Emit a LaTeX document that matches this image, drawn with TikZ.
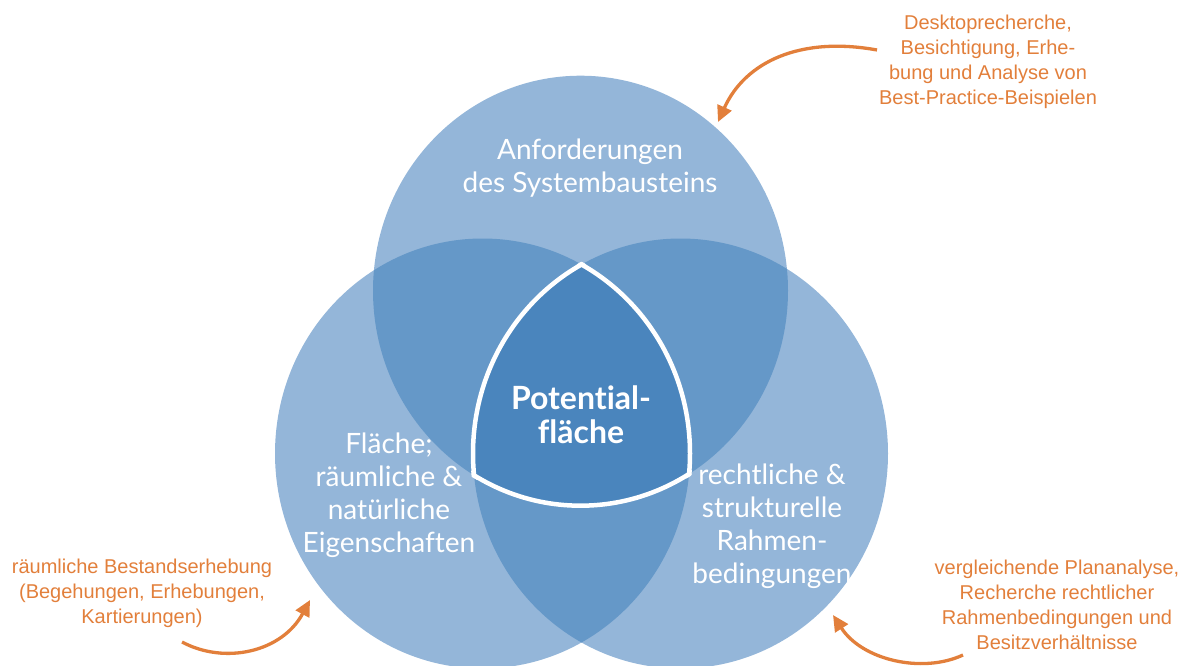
\documentclass[tikz,border=0pt]{standalone}
\usepackage{fontspec}
\setmainfont{Lato}[Ligatures={NoCommon,NoRare}]
\newfontfamily\arialfont{Liberation Sans}
\usetikzlibrary{arrows.meta}
\definecolor{cOne}{HTML}{94B6D9}
\definecolor{cTwo}{HTML}{6598C8}
\definecolor{cThree}{HTML}{4A85BD}
\definecolor{orng}{HTML}{E27F3B}
\begin{document}
\begin{tikzpicture}[x=1pt,y=-1pt,
  circlabel/.style={text=white, font=\fontsize{28}{33}\selectfont, align=center, inner sep=0pt},
  centrelabel/.style={text=white, font=\bfseries\fontsize{32}{34}\selectfont, align=center, inner sep=0pt},
  notelabel/.style={text=orng, font=\arialfont\fontsize{20}{25}\selectfont, align=center, inner sep=0pt},
  orarrow/.style={draw=orng, line width=3.3pt, -{Triangle[length=16pt,width=15pt]}},
  outline/.style={draw=white, line width=4.5pt}]
\useasboundingbox (0,0) rectangle (1189,666);
\def\rx{207.5pt}\def\ry{215pt}
\def\rxb{210pt}\def\ryb{217.5pt}
\coordinate (T) at (580.5,290.7);
\coordinate (L) at (482.5,453.5);
\coordinate (R) at (680.5,453.5);
% single circles
\fill[cOne] (T) ellipse ({\rx} and {\ry}) (L) ellipse ({\rx} and {\ry}) (R) ellipse ({\rx} and {\ry});
% pairwise overlaps
\begin{scope}
  \clip (T) ellipse ({\rx} and {\ry});
  \fill[cTwo] (L) ellipse ({\rx} and {\ry}) (R) ellipse ({\rx} and {\ry});
\end{scope}
\begin{scope}
  \clip (L) ellipse ({\rx} and {\ry});
  \fill[cTwo] (R) ellipse ({\rx} and {\ry});
\end{scope}
% triple overlap
\begin{scope}
  \clip (T) ellipse ({\rx} and {\ry});
  \clip (L) ellipse ({\rx} and {\ry});
  \fill[cThree] (R) ellipse ({\rx} and {\ry});
\end{scope}
% white outline of the centre
\begin{scope}
  \clip (L) ellipse ({\rxb} and {\ryb});
  \clip (R) ellipse ({\rxb} and {\ryb});
  \draw[outline] (T) ellipse ({\rx} and {\ry});
\end{scope}
\begin{scope}
  \clip (T) ellipse ({\rxb} and {\ryb});
  \clip (R) ellipse ({\rxb} and {\ryb});
  \draw[outline] (L) ellipse ({\rx} and {\ry});
\end{scope}
\begin{scope}
  \clip (T) ellipse ({\rxb} and {\ryb});
  \clip (L) ellipse ({\rxb} and {\ryb});
  \draw[outline] (R) ellipse ({\rx} and {\ry});
\end{scope}
% circle labels
\node[circlabel] (top) at (590,168) {Anforderungen\\des Systembausteins};
\node[circlabel] (left) at (389,495) {Fläche;\\räumliche \&\\natürliche\\Eigenschaften};
\node[circlabel] (right) at (772,526) {rechtliche \&\\strukturelle\\Rahmen-\\bedingungen};
\node[centrelabel] (centre) at (581,415) {Potential-\\fläche};
% notes
\node[notelabel] (noteT) at (988,62) {Desktoprecherche,\\Besichtigung, Erhe-\\bung und Analyse von\\Best-Practice-Beispielen};
\node[notelabel] (noteL) at (142,593) {räumliche Bestandserhebung\\(Begehungen, Erhebungen,\\Kartierungen)};
\node[notelabel] (noteR) at (1057,605) {vergleichende Plananalyse,\\Recherche rechtlicher\\Rahmenbedingungen und\\Besitzverhältnisse};
% arrows
\coordinate (a1s) at (877,50);
\coordinate (a1e) at (718,122);
\coordinate (a2s) at (182,642);
\coordinate (a2e) at (310,600);
\coordinate (a3s) at (963,655);
\coordinate (a3e) at (833,615);
\draw[orarrow] (a1s) .. controls (800,36) and (745,62) .. (a1e);
\draw[orarrow] (a2s) .. controls (225,665) and (282,652) .. (a2e);
\draw[orarrow] (a3s) .. controls (922,674) and (862,660) .. (a3e);
\end{tikzpicture}
\end{document}
